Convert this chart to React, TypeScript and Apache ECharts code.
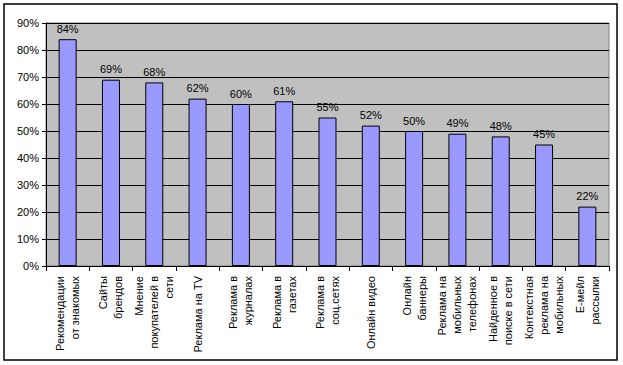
import React, { useEffect, useRef } from "react";
import * as echarts from "echarts";

const categories = [
  "Рекомендации\nот знакомых",
  "Сайты\nбрендов",
  "Мнение\nпокупателей в\nсети",
  "Реклама на TV",
  "Реклама в\nжурналах",
  "Реклама в\nгазетах",
  "Реклама в\nсоц.сетях",
  "Онлайн видео",
  "Онлайн\nбаннеры",
  "Реклама на\nмобильных\nтелефонах",
  "Найденное в\nпоиске в сети",
  "Контекстная\nреклама на\nмобильных",
  "Е-мейл\nрассылки",
];
const values = [84, 69, 68, 62, 60, 61, 55, 52, 50, 49, 48, 45, 22];

export default function App() {
  const ref = useRef<HTMLDivElement>(null);
  useEffect(() => {
    document.body.style.margin = "0";
    const chart = echarts.init(ref.current!, null, { renderer: "svg" });
    const font = "'Liberation Sans', Arial, sans-serif";
    chart.setOption({
      animation: false,
      backgroundColor: "#ffffff",
      textStyle: { fontFamily: font },
      grid: {
        left: 46,
        top: 23,
        width: 563,
        height: 243,
        show: true,
        backgroundColor: "#C0C0C0",
        borderColor: "#808080",
        borderWidth: 1,
      },
      graphic: [
        {
          type: "rect",
          shape: { x: 4, y: 4, width: 613, height: 356 },
          style: { fill: "none", stroke: "#000", lineWidth: 1.5 },
          silent: true,
        },
      ],
      xAxis: {
        type: "category",
        data: categories,
        axisLine: { lineStyle: { color: "#000", width: 1 } },
        axisTick: { show: true, length: 5, lineStyle: { color: "#000" } },
        axisLabel: {
          rotate: 90,
          interval: 0,
          margin: 10,
          fontSize: 11,
          lineHeight: 15,
          color: "#000",
          fontFamily: font,
        },
      },
      yAxis: {
        type: "value",
        min: 0,
        max: 90,
        interval: 10,
        axisLine: { show: true, lineStyle: { color: "#000", width: 1 } },
        axisTick: { show: true, length: 4, lineStyle: { color: "#000" } },
        axisLabel: {
          formatter: "{value}%",
          fontSize: 11,
          color: "#000",
          margin: 7,
          fontFamily: font,
        },
        splitLine: { show: true, lineStyle: { color: "#000", width: 1 } },
      },
      series: [
        {
          type: "bar",
          data: values,
          barWidth: 18,
          itemStyle: { color: "#9999FF", borderColor: "#000", borderWidth: 1 },
          label: {
            show: true,
            position: "top",
            distance: 5,
            formatter: "{c}%",
            fontSize: 11,
            color: "#000",
            fontFamily: font,
          },
        },
      ],
    });
    return () => chart.dispose();
  }, []);
  return <div ref={ref} style={{ width: 623, height: 365 }} />;
}
